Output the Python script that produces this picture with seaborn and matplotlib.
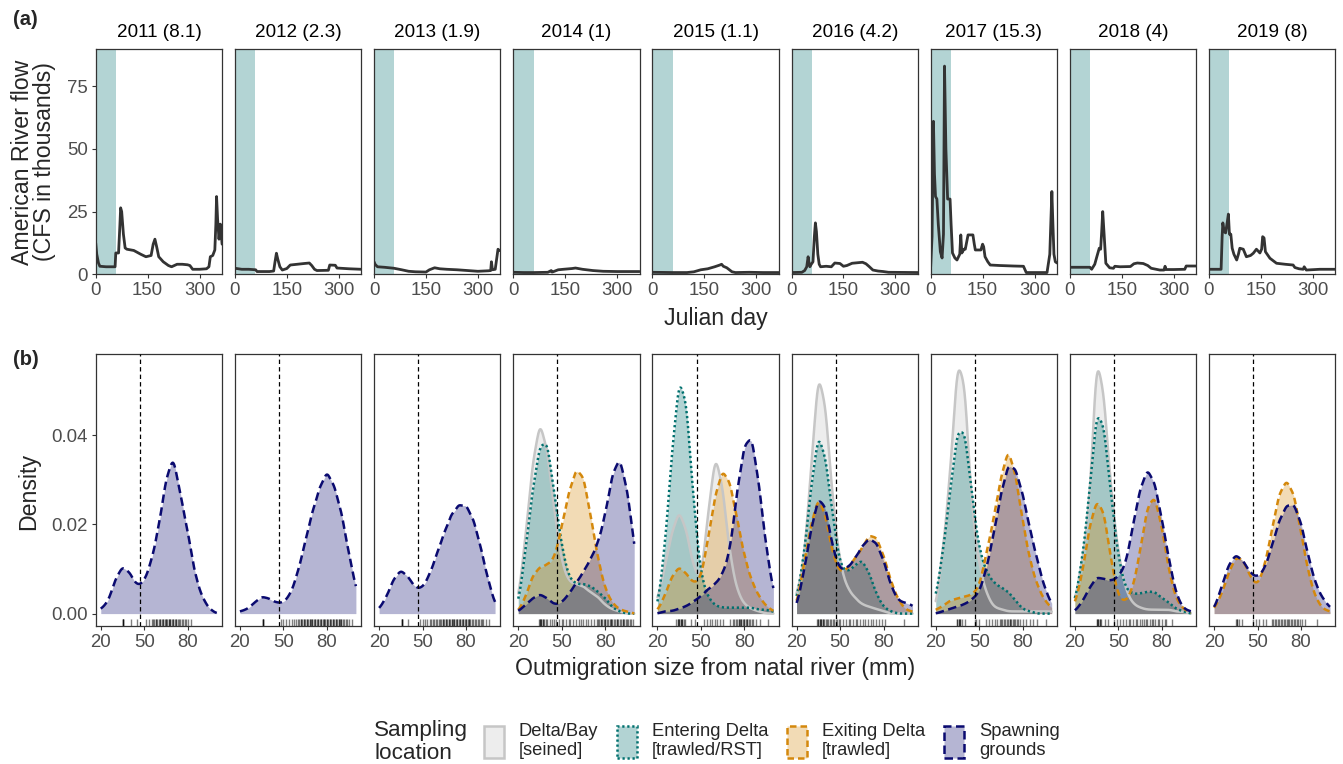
import numpy as np
import matplotlib
matplotlib.use("Agg")
import matplotlib.pyplot as plt
from matplotlib.patches import Patch
from matplotlib.colors import to_rgba
import seaborn as sns

sns.set_theme(style="white")
plt.rcParams["font.family"] = ["Liberation Sans", "DejaVu Sans"]

# ---------------------------------------------------------------- data
years = [2011, 2012, 2013, 2014, 2015, 2016, 2017, 2018, 2019]
mean_flow = ["8.1", "2.3", "1.9", "1", "1.1", "4.2", "15.3", "4", "8"]
spawn_window = (0, 59)          # Julian days shaded in the flow panels
size_cutoff = 47                # mm, dashed reference line

# American River daily flow (thousands of CFS), sampled at turning points
flow_day = {
    2011: [0, 3, 8, 12, 30, 56, 58, 66, 70, 72, 75, 80, 85, 90, 110, 130, 145, 160, 166, 171, 176,
           182, 195, 210, 219, 235, 250, 265, 272, 280, 300, 320, 327, 331, 338, 344, 347, 349, 352,
           356, 360, 365],
    2012: [0, 20, 40, 60, 64, 100, 112, 116, 120, 124, 130, 137, 150, 160, 180, 200, 215, 222, 230,
           237, 270, 274, 290, 295, 330, 365],
    2013: [0, 3, 10, 30, 58, 80, 100, 120, 150, 160, 175, 190, 210, 240, 270, 300, 330, 337, 339,
           342, 350, 355, 358, 362, 365],
    2014: [0, 30, 60, 100, 110, 112, 115, 130, 145, 170, 180, 200, 230, 260, 300, 365],
    2015: [0, 60, 100, 120, 140, 160, 180, 195, 200, 205, 215, 230, 240, 280, 320, 365],
    2016: [0, 30, 38, 44, 48, 50, 53, 57, 62, 66, 69, 72, 76, 80, 84, 100, 115, 125, 140, 150, 160,
           175, 190, 205, 215, 225, 235, 250, 265, 280, 365],
    2017: [0, 4, 8, 11, 14, 18, 22, 28, 33, 37, 40, 44, 49, 56, 59, 63, 70, 76, 84, 87, 90, 96, 100,
           108, 122, 126, 129, 145, 150, 153, 157, 165, 172, 200, 240, 268, 276, 300, 336, 344, 350,
           353, 356, 360, 365],
    2018: [0, 30, 58, 63, 72, 78, 85, 89, 92, 95, 99, 104, 115, 126, 130, 145, 175, 185, 195, 212,
           225, 235, 260, 272, 275, 278, 300, 332, 336, 365],
    2019: [0, 20, 35, 38, 40, 44, 48, 53, 56, 59, 63, 67, 72, 80, 85, 89, 99, 108, 120, 128, 137,
           147, 152, 155, 159, 163, 168, 176, 195, 220, 243, 248, 260, 272, 275, 281, 320, 365],
}
flow_kcfs = {
    2011: [12.5, 8, 4.5, 3.2, 3.0, 3.0, 8.5, 8.5, 20, 26.5, 25, 16, 10.5, 10, 9.5, 8, 7, 7.5, 12, 14,
           11, 7, 5, 3.5, 3.0, 4, 4, 3.8, 3.5, 2, 2, 2.2, 3, 7, 7.5, 9.7, 20, 31, 22, 14, 20, 12],
    2012: [2.4, 2.0, 2.0, 1.8, 1.1, 1.1, 1.3, 5, 8.4, 6, 3, 1.7, 2.3, 3.7, 4.0, 4.3, 4.5, 3.5, 2,
           1.5, 1.6, 3.7, 3.6, 2.5, 2.2, 2.0],
    2013: [5, 4, 3, 2.8, 2.4, 1.8, 1.2, 1.0, 0.9, 1.8, 2.6, 2.2, 2.0, 1.8, 1.5, 1.2, 1.4, 1.5, 5,
           1.8, 2, 7, 10, 9.5, 9.5],
    2014: [0.8, 0.7, 0.7, 0.8, 1.5, 0.9, 1.0, 1.8, 2.0, 2.3, 2.5, 2.0, 1.5, 1.2, 1.1, 1.1],
    2015: [0.8, 0.7, 0.7, 1.0, 1.8, 2.2, 3.0, 3.7, 4.0, 3.2, 2.6, 1.0, 0.7, 0.8, 0.7, 0.7],
    2016: [0.7, 0.8, 1.5, 3, 7, 5, 3, 4, 5, 15, 20.5, 17, 8, 4, 3, 3.2, 3.0, 4.5, 4.3, 3.2, 3.5,
           4.4, 4.6, 4.8, 4.2, 3, 1.7, 1.3, 1.1, 0.8, 0.7],
    2017: [3, 15, 61, 40, 31, 30, 20, 9, 6.5, 16, 83, 50, 30, 30, 20, 8.5, 6.5, 5.7, 8, 15.7, 8.5,
           10, 10, 15.7, 15.7, 12, 9.7, 9.7, 12, 11, 7, 5, 3.7, 3.5, 3.3, 3.2, 0.7, 0.7, 0.7, 8, 33,
           20, 8, 5, 4.5],
    2018: [2.8, 2.8, 2.8, 2.0, 4, 7, 10.4, 10, 17, 25, 16, 4.4, 2.6, 2.4, 3.2, 3.0, 3.1, 4.2, 4.5,
           4.3, 3.5, 2.4, 1.7, 1.7, 3.2, 1.9, 1.9, 2.0, 3.3, 3.3],
    2019: [2, 2, 2, 15, 20.5, 17, 16.5, 21, 24, 16, 16, 10.4, 8, 5.7, 8, 10.4, 10, 7, 7.5, 8.4, 10,
           8.5, 10, 15, 14.5, 9, 8, 6.4, 4.4, 4, 3.7, 2.7, 2.2, 2.0, 3, 1.7, 2, 2],
}

# Fish counts per 5-mm outmigration size class, by sampling location
size_bins = [20, 25, 30, 35, 40, 45, 50, 55, 60, 65, 70, 75, 80, 85, 90, 95, 100]
delta_bay = {
    2014: [6, 36, 72, 92, 78, 48, 24, 15, 14, 13, 10, 8, 4, 2, 1, 0, 0],
    2015: [6, 20, 36, 46, 37, 20, 14, 44, 72, 56, 26, 10, 4, 2, 1, 0, 0],
    2016: [8, 21, 62, 106, 90, 48, 21, 11, 7, 4, 3, 2, 1, 0, 0, 0, 0],
    2017: [2, 29, 63, 118, 107, 46, 22, 9, 3, 2, 1, 1, 1, 1, 1, 1, 1],
    2018: [6, 26, 52, 135, 112, 62, 30, 12, 5, 3, 2, 2, 2, 2, 1, 1, 0],
}
entering = {
    2014: [4, 32, 63, 86, 88, 60, 34, 18, 15, 15, 14, 11, 8, 3, 1, 0, 0],
    2015: [2, 32, 81, 120, 108, 56, 19, 8, 4, 3, 3, 3, 3, 3, 2, 2, 1],
    2016: [6, 26, 58, 84, 72, 45, 22, 19, 22, 25, 19, 9, 3, 1, 0, 0, 0],
    2017: [7, 28, 56, 84, 84, 54, 29, 19, 14, 12, 10, 6, 2, 1, 0, 0, 0],
    2018: [5, 24, 54, 93, 86, 53, 25, 11, 9, 9, 10, 10, 7, 5, 2, 1, 0],
}
exiting = {
    2014: [1, 8, 19, 23, 24, 27, 43, 60, 72, 68, 48, 27, 12, 5, 2, 1, 0],
    2015: [1, 7, 15, 19, 16, 12, 14, 30, 48, 58, 53, 38, 23, 13, 7, 3, 1],
    2016: [4, 24, 44, 58, 49, 29, 20, 22, 27, 32, 39, 38, 29, 16, 7, 2, 1],
    2017: [2, 4, 7, 8, 9, 10, 14, 32, 50, 72, 88, 74, 49, 28, 15, 7, 3],
    2018: [4, 17, 38, 50, 45, 23, 7, 5, 11, 27, 47, 52, 38, 18, 6, 2, 0],
    2019: [2, 8, 18, 25, 24, 16, 12, 21, 37, 53, 59, 53, 36, 18, 7, 2, 1],
}
spawning = {
    2011: [2, 5, 15, 21, 18, 12, 14, 23, 38, 59, 70, 52, 36, 17, 7, 2, 0],
    2012: [1, 2, 5, 8, 7, 5, 5, 9, 19, 33, 47, 58, 66, 59, 47, 28, 12],
    2013: [2, 7, 15, 19, 16, 11, 11, 17, 26, 35, 43, 47, 47, 41, 29, 15, 4],
    2014: [1, 4, 7, 9, 7, 4, 5, 9, 14, 19, 25, 32, 45, 64, 72, 57, 33],
    2015: [0, 1, 1, 2, 3, 5, 7, 10, 12, 16, 25, 50, 69, 73, 53, 27, 9],
    2016: [3, 19, 39, 54, 50, 30, 20, 21, 25, 31, 35, 33, 25, 13, 6, 5, 4],
    2017: [0, 1, 2, 3, 4, 6, 9, 19, 34, 51, 64, 62, 51, 36, 23, 11, 4],
    2018: [1, 5, 11, 16, 15, 14, 16, 21, 38, 54, 63, 57, 41, 23, 8, 2, 1],
    2019: [2, 12, 23, 28, 25, 19, 17, 21, 32, 44, 51, 52, 43, 27, 14, 7, 3],
}

# Individual outmigration sizes (mm) for the rug
rug_sizes = {
    2011: [35, 35, 35, 35, 41, 45, 51, 53, 55, 56, 57, 58, 58, 59, 60, 61, 61, 62, 63, 63, 64, 65,
           65, 66, 67, 67, 68, 68, 69, 70, 70, 71, 72, 72, 73, 74, 75, 76, 77, 78, 79, 80, 82],
    2012: [36, 36, 36, 36, 48, 50, 52, 54, 56, 57, 59, 60, 61, 62, 62, 63, 64, 64, 65, 66, 66, 67,
           68, 68, 69, 70, 70, 71, 72, 72, 73, 74, 74, 75, 76, 76, 77, 78, 78, 79, 80, 80, 81, 82,
           82, 83, 84, 84, 85, 86, 86, 87, 88, 88, 89, 90, 90, 91, 92, 93, 94, 95, 97],
    2013: [36, 36, 36, 36, 40, 48, 50, 52, 53, 55, 56, 57, 58, 59, 60, 61, 62, 63, 64, 64, 65, 66,
           66, 67, 68, 68, 69, 70, 70, 71, 72, 72, 73, 74, 74, 75, 76, 76, 77, 78, 78, 79, 80, 80,
           81, 82, 82, 83, 84, 85, 86, 87, 88, 89, 90, 91, 92, 94, 96],
    2014: [34, 35, 35, 36, 36, 37, 37, 38, 39, 40, 42, 43, 45, 46, 48, 50, 51, 53, 55, 56, 58, 60,
           62, 63, 65, 67, 68, 70, 72, 74, 75, 76, 77, 77, 78, 79, 80, 80, 81, 82, 83, 84, 84, 85,
           86, 87, 88, 88, 89, 90, 91, 92, 92, 93, 94, 95, 96, 97, 98, 99],
    2015: [33, 34, 34, 35, 35, 36, 36, 37, 37, 38, 39, 43, 46, 52, 54, 56, 58, 60, 61, 63, 65, 70,
           72, 73, 74, 75, 76, 76, 77, 78, 78, 79, 80, 80, 81, 82, 82, 83, 84, 85, 86, 88, 91, 96],
    2016: [34, 35, 35, 36, 36, 37, 37, 38, 38, 39, 40, 41, 42, 43, 44, 45, 46, 47, 48, 49, 50, 52,
           54, 56, 57, 59, 61, 62, 64, 66, 67, 69, 71, 73, 75, 77, 79, 81, 94],
    2017: [35, 35, 36, 36, 37, 37, 38, 40, 47, 48, 50, 55, 57, 59, 61, 62, 64, 65, 66, 67, 68, 69,
           70, 71, 71, 72, 73, 74, 75, 76, 77, 78, 80, 82, 85, 87, 90, 96],
    2018: [35, 35, 36, 36, 37, 37, 38, 41, 43, 47, 49, 51, 53, 55, 57, 58, 60, 62, 63, 65, 66, 68,
           69, 70, 72, 73, 74, 75, 77, 78, 80, 82, 83, 87],
    2019: [35, 36, 36, 37, 39, 47, 49, 51, 54, 56, 60, 61, 62, 63, 64, 65, 66, 67, 68, 69, 70, 71,
           72, 73, 74, 75, 76, 77, 78, 79, 81, 83, 91],
}

# ---------------------------------------------------------------- styles
locations = [
    ("Delta/Bay\n[seined]", delta_bay, "#C6C6C6", "-"),
    ("Entering Delta\n[trawled/RST]", entering, "#00706E", (0, (0.9, 1.1))),
    ("Exiting Delta\n[trawled]", exiting, "#D4880C", (0, (2.6, 1.6))),
    ("Spawning\ngrounds", spawning, "#0A0A70", (0, (3.4, 1.8))),
]
KDE_BW_MM = 2.8
INK = "#333333"
TICK_TXT = "#4D4D4D"

W, H = 1343, 764
fig = plt.figure(figsize=(W / 100, H / 100), dpi=100)


def px_axes(left, top, width, height):
    return fig.add_axes([left / W, 1 - (top + height) / H, width / W, height / H])


def style_axes(ax, show_y):
    for sp in ax.spines.values():
        sp.set_color(INK)
        sp.set_linewidth(0.9)
        sp.set_visible(True)
    ax.tick_params(axis="both", direction="out", length=3.0, width=0.8, color=INK,
                   labelcolor=TICK_TXT, labelsize=13.4, pad=2.5, bottom=True, left=show_y,
                   labelleft=show_y)
    ax.set_xlabel("")
    ax.set_ylabel("")
    ax.grid(False)


def draw_density(ax, counts, color, ls):
    x = np.asarray(size_bins, float)
    w = np.asarray(counts, float)
    sd = np.sqrt(np.cov(x, aweights=w))
    kws = dict(x=x, weights=w, bw_method=KDE_BW_MM / sd, cut=10, clip=(20, 100),
               gridsize=400, ax=ax)
    sns.kdeplot(**kws, fill=True, color=color, alpha=0.3, linewidth=0)
    sns.kdeplot(**kws, color=color, linestyle=ls, linewidth=1.8)


PANEL_W = 126.4
STEP = 139.16

# ---------------------------------------------------------------- (a) river flow
for i, yr in enumerate(years):
    left = 95.7 + i * STEP
    ax = px_axes(left, 49.3, PANEL_W, 225.0)
    ax.axvspan(*spawn_window, color="#B3D4D4", lw=0, zorder=0)
    sns.lineplot(x=flow_day[yr], y=flow_kcfs[yr], ax=ax, color=INK, linewidth=2.0,
                 estimator=None, sort=False, legend=False, solid_joinstyle="round")
    ax.set_xlim(0, 365)
    ax.set_ylim(0, 89.7)
    ax.set_xticks([0, 150, 300])
    ax.set_yticks([0, 25, 50, 75])
    style_axes(ax, i == 0)
    ax.text(0.5, 1.053, f"{yr} ({mean_flow[i]})", transform=ax.transAxes, ha="center",
            va="baseline", fontsize=13.6, color="black")

# ---------------------------------------------------------------- (b) size densities
for i, yr in enumerate(years):
    left = 95.7 + i * STEP
    ax = px_axes(left, 354.0, PANEL_W, 272.0)
    for label, table, color, ls in locations:
        if yr in table:
            draw_density(ax, table[yr], color, ls)
    ax.axvline(size_cutoff, color="black", linestyle=(0, (3.5, 2.5)), linewidth=0.9, zorder=5)
    sns.rugplot(x=rug_sizes[yr], ax=ax, height=0.025, color="black", alpha=0.5,
                linewidth=1.0, expand_margins=False)
    ax.set_xlim(16.5, 103.7)
    ax.set_ylim(-0.00278, 0.0582)
    ax.set_xticks([20, 50, 80])
    ax.set_yticks([0.0, 0.02, 0.04])
    ax.set_yticklabels(["0.00", "0.02", "0.04"])
    style_axes(ax, i == 0)

# ---------------------------------------------------------------- titles and labels
fig.text(13 / W, 1 - 19.5 / H, "(a)", fontweight="bold", fontsize=14.5, va="center")
fig.text(13 / W, 1 - 360 / H, "(b)", fontweight="bold", fontsize=14.5, va="center")
fig.text(33.5 / W, 1 - 162 / H, "American River flow\n(CFS in thousands)", rotation=90,
         ha="center", va="center", fontsize=16.7, linespacing=0.95)
fig.text(715.5 / W, 1 - 318 / H, "Julian day", ha="center", va="center", fontsize=16.7)
fig.text(29 / W, 1 - 491 / H, "Density", rotation=90, ha="center", va="center", fontsize=16.7)
fig.text(715.5 / W, 1 - 669 / H, "Outmigration size from natal river (mm)", ha="center",
         va="center", fontsize=16.7)

# ---------------------------------------------------------------- legend
handles = [Patch(facecolor=to_rgba(c, 0.3), edgecolor=c, linestyle=ls, linewidth=1.8, label=lab)
           for lab, _, c, ls in locations]
leg = fig.legend(handles=handles, loc="center left", bbox_to_anchor=(484 / W, 1 - 741 / H),
                 ncol=4, frameon=False, fontsize=13.2, handlelength=1.1, handleheight=2.3,
                 handletextpad=0.8, columnspacing=1.03, borderpad=0, borderaxespad=0)
for t in leg.get_texts():
    t.set_linespacing(1.2)
fig.text(374 / W, 1 - 742 / H, "Sampling\nlocation", ha="left", va="center", fontsize=16.2,
         linespacing=1.1)

fig.savefig("out.png", dpi=100)
